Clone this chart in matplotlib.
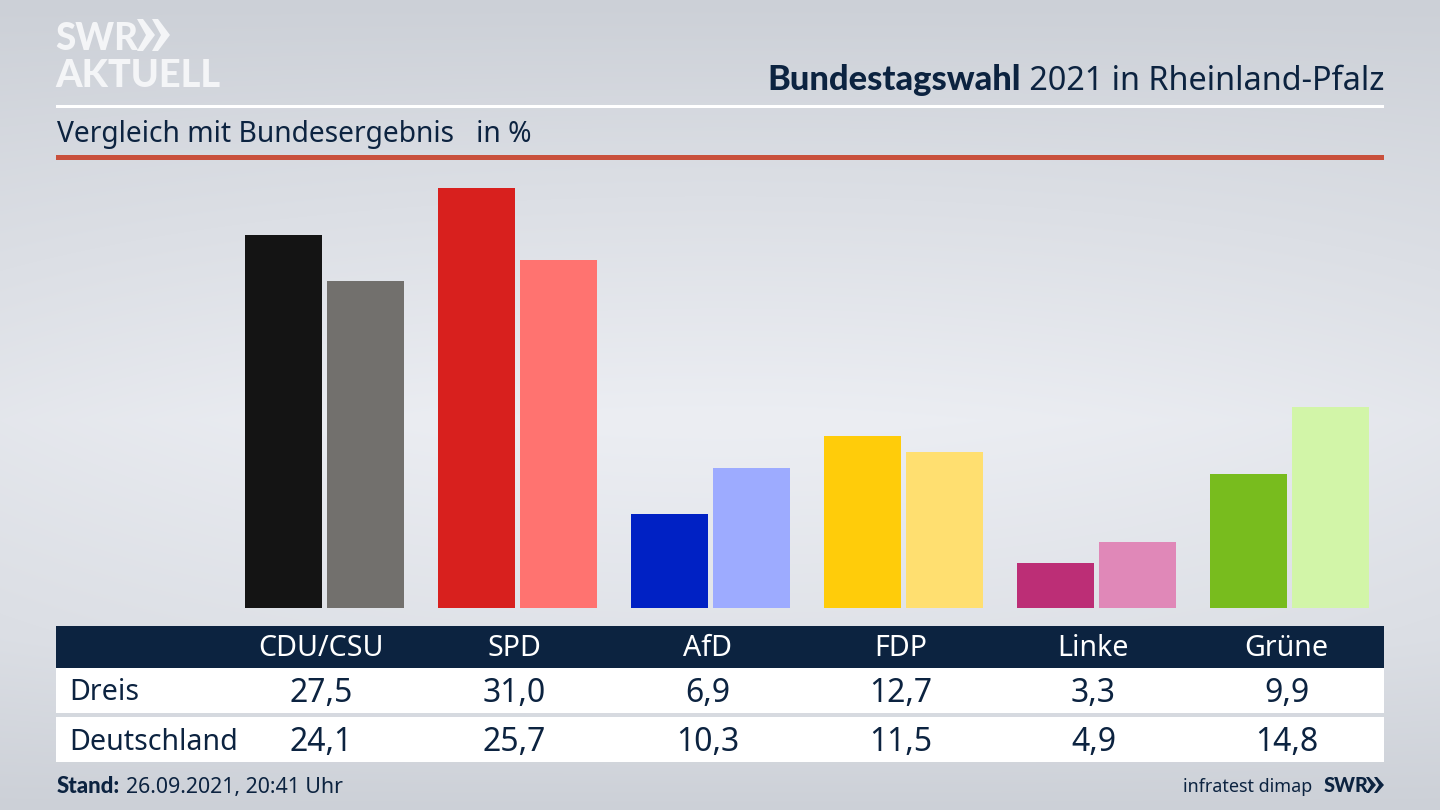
#!/usr/bin/python
# -*- coding: utf-8 -*-

"""
Bundestagswahl 2021 in Rheinland-Pfalz, Vergleich mit Bundesergebnis
"""

import numpy as np
import matplotlib.pyplot as plt
from matplotlib.patches import Rectangle, Polygon

# Data
parties = ['CDU/CSU', 'SPD', 'AfD', 'FDP', 'Linke', 'Grüne']
dreis = [27.5, 31.0, 6.9, 12.7, 3.3, 9.9]
deutschland = [24.1, 25.7, 10.3, 11.5, 4.9, 14.8]
row_labels = ['Dreis', 'Deutschland']
colors_dreis = ['#141414', '#D8201E', '#0021C4', '#FFCC0A', '#BC2E76', '#78BC1E']
colors_deutschland = ['#72706D', '#FF7370', '#9DABFF', '#FFDF70', '#E088B8', '#D2F5A8']

NAVY = '#0C2340'
LOGO = '#F4F5F7'
plt.rcParams['font.family'] = ['Noto Sans', 'DejaVu Sans']
BOLD = ['Lato', 'DejaVu Sans']

fig = plt.figure(figsize=(14.4, 8.1), dpi=100)

# Background gradient
bg = fig.add_axes([0, 0, 1, 1], zorder=0)
grad_y = np.array([0, 160, 420, 640, 810])
grad_v = np.array([0.0, 0.42, 1.0, 0.62, 0.0])
yy = np.interp(np.arange(810), grad_y, grad_v)
xx = 1 - 0.25 * ((np.arange(1440) - 720) / 720) ** 2
shade = yy[:, None] * xx[None, :]
c0 = np.array([204, 208, 215]) / 255
c1 = np.array([236, 238, 243]) / 255
bg.imshow(c0 + (c1 - c0) * shade[:, :, None], aspect='auto', extent=(0, 1440, 810, 0))
bg.axis('off')

# Overlay in pixel coordinates for header, table and footer
ov = fig.add_axes([0, 0, 1, 1], zorder=1)
ov.set_xlim(0, 1440)
ov.set_ylim(810, 0)
ov.axis('off')
ov.patch.set_alpha(0)

ov.add_patch(Rectangle((56, 105), 1328, 2.5, color='white', lw=0))
ov.add_patch(Rectangle((56, 155), 1328, 5, color='#C9503C', lw=0))
ov.add_patch(Rectangle((56, 626), 1328, 42, color=NAVY, lw=0))
ov.add_patch(Rectangle((56, 668), 1328, 45, color='white', lw=0))
ov.add_patch(Rectangle((56, 717), 1328, 45, color='white', lw=0))

# Logo
ov.text(55, 50, 'SWR', color=LOGO, fontsize=26.5, family=BOLD, fontweight='black', va='baseline', ha='left')
ov.text(55, 87, 'AKTUELL', color=LOGO, fontsize=27.3, family=BOLD, fontweight='black', va='baseline', ha='left')
for x0 in (137, 152):
    ov.add_patch(Polygon([(x0, 19), (x0 + 6, 19), (x0 + 18, 35), (x0 + 6, 51), (x0, 51), (x0 + 9, 35)],
                         color=LOGO, lw=0))

# Title, regular part right aligned, bold part left of it
t = ov.text(1384, 90, ' 2021 in Rheinland-Pfalz', color=NAVY, fontsize=23.3, ha='right', va='baseline')
fig.canvas.draw()
box = t.get_window_extent()
ov.text(box.x0, 90, 'Bundestagswahl', color=NAVY, fontsize=24.8, family=BOLD, fontweight='black',
        ha='right', va='baseline')
ov.text(57, 142, 'Vergleich mit Bundesergebnis   in %', color=NAVY, fontsize=20.3, ha='left', va='baseline')

# Bars
ax = fig.add_axes([0, (810 - 608) / 810, 1, 448 / 810], zorder=2)
ax.patch.set_alpha(0)
ax.set_xlim(-324.5 / 193, (1440 - 324.5) / 193)
ax.set_ylim(0, 448 / 13.56)
ax.axis('off')
x = np.arange(len(parties))
ax.bar(x - 0.2124, dreis, width=0.4, color=colors_dreis)
ax.bar(x + 0.2124, deutschland, width=0.4, color=colors_deutschland)

# Table
centers = 324.5 + 193 * x
for cx, party, a, b in zip(centers, parties, dreis, deutschland):
    ov.text(cx - 3, 656, party, color='white', fontsize=20.6, ha='center', va='baseline')
    ov.text(cx - 3, 702, f'{a:.1f}'.replace('.', ','), color=NAVY, fontsize=23, ha='center', va='baseline')
    ov.text(cx - 3, 751, f'{b:.1f}'.replace('.', ','), color=NAVY, fontsize=23, ha='center', va='baseline')
ov.text(69, 700, row_labels[0], color=NAVY, fontsize=20.6, ha='left', va='baseline')
ov.text(69, 750, row_labels[1], color=NAVY, fontsize=20.6, ha='left', va='baseline')

# Footer
ov.text(57, 793, 'Stand:', color=NAVY, fontsize=16, family=BOLD, fontweight='black', ha='left', va='baseline')
ov.text(126, 793, '26.09.2021, 20:41 Uhr', color=NAVY, fontsize=15.35, ha='left', va='baseline')
ov.text(1312, 792, 'infratest dimap', color=NAVY, fontsize=12.9, ha='right', va='baseline')
ov.text(1324, 792, 'SWR', color=NAVY, fontsize=14.3, family=BOLD, fontweight='black', ha='left', va='baseline')
for x0 in (1366, 1374):
    ov.add_patch(Polygon([(x0, 777), (x0 + 3, 777), (x0 + 10, 785), (x0 + 3, 793), (x0, 793), (x0 + 5, 785)],
                         color=NAVY, lw=0))

fig.savefig('out.png', dpi=100)
